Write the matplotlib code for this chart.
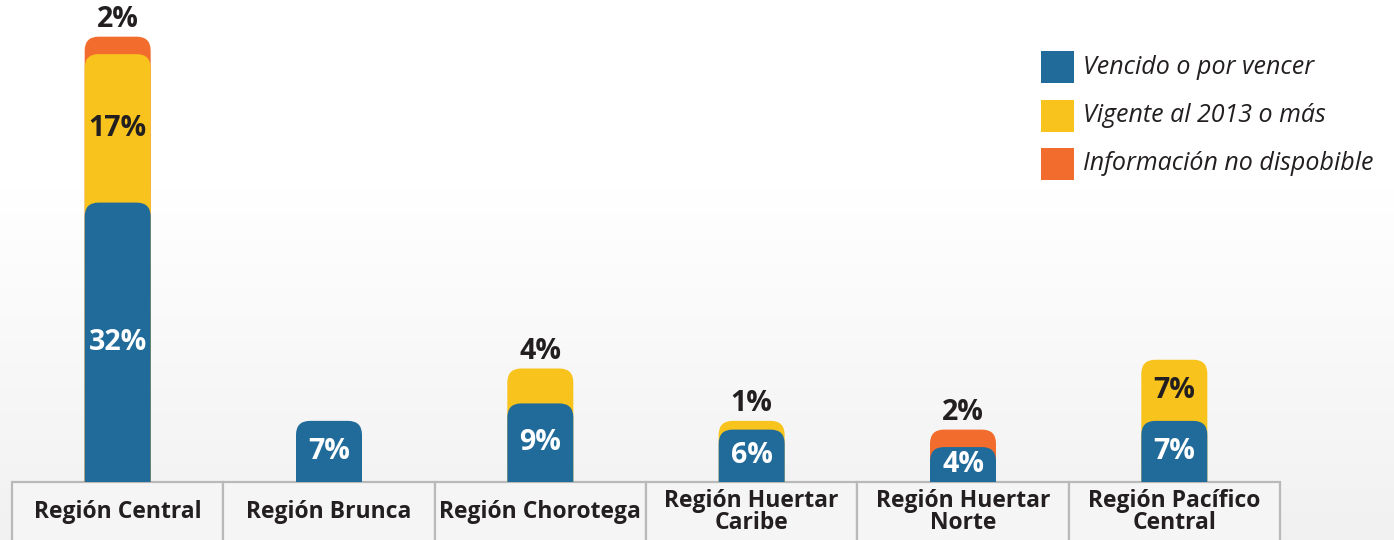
import numpy as np
import matplotlib.pyplot as plt
from matplotlib.patches import FancyBboxPatch, Rectangle

# data
regions = ['Región Central', 'Región Brunca', 'Región Chorotega',
           'Región Huertar\nCaribe', 'Región Huertar\nNorte', 'Región Pacífico\nCentral']
vencido = [32, 7, 9, 6, 4, 7]
vigente = [17, 0, 4, 1, 0, 7]
no_info = [2, 0, 0, 0, 2, 0]
series_names = ['Vencido o por vencer', 'Vigente al 2013 o más', 'Información no dispobible']
colors = ['#216b9b', '#f7c31c', '#f26c2d']
dark = '#231f20'

plt.rcParams['font.family'] = ['Open Sans', 'DejaVu Sans']

W, H = 1394, 540
fig = plt.figure(figsize=(W / 100, H / 100), dpi=100)

# soft background gradient
bg = fig.add_axes([0, 0, 1, 1], zorder=-10)
t = np.clip((np.linspace(0, 1, 300) - 0.35) / 0.65, 0, 1)
shade = 1 - 0.055 * t
bg.imshow(np.dstack([shade, shade, shade]).reshape(300, 1, 3), aspect='auto',
          extent=[0, 1, 0, 1], origin='upper')
bg.axis('off')

# plot area: from table top (y=482) to top of figure
ax_left, ax_right, ax_bot = 12, 1280, 482
ax = fig.add_axes([ax_left / W, (H - ax_bot) / H, (ax_right - ax_left) / W, ax_bot / H])
ax.set_facecolor('none')
n = len(regions)
x = np.arange(n)
ax.set_xlim(-0.5, n - 0.5)
ymax = 55.2
ax.set_ylim(0, ymax)
ax.axis('off')

px_x = (ax_right - ax_left) / n        # pixels per x unit
px_y = ax_bot / ymax                   # pixels per y unit
bar_w = 66 / px_x
r_px = 14
rx, ry = r_px / px_x, r_px / px_y


def rounded_bar(xc, top, color, z):
    p = FancyBboxPatch((xc - bar_w / 2, -2 * ry), bar_w, top + 2 * ry,
                       boxstyle=f'round,pad=0,rounding_size={rx}',
                       mutation_aspect=ry / rx, fc=color, ec='none',
                       zorder=z, clip_on=True)
    ax.add_patch(p)


fs_val = 20.5
for i in range(n):
    b, v, o = vencido[i], vigente[i], no_info[i]
    if o:
        rounded_bar(x[i], b + v + o, colors[2], 1)
        ax.text(x[i], b + v + o + 0.3, f'{o}%', color=dark, va='bottom', ha='center',
                fontsize=fs_val, fontweight='bold')
    if v:
        rounded_bar(x[i], b + v, colors[1], 2)
        if v >= 5:
            ax.text(x[i], b + v / 2, f'{v}%', color=dark, va='center', ha='center',
                    fontsize=fs_val, fontweight='bold')
        else:
            ax.text(x[i], b + v + 0.3, f'{v}%', color=dark, va='bottom', ha='center',
                    fontsize=fs_val, fontweight='bold')
    rounded_bar(x[i], b, colors[0], 3)
    ax.text(x[i], b / 2, f'{b}%', color='white', zorder=5, va='center', ha='center',
            fontsize=fs_val, fontweight='bold')

# category table under the bars
cell_h = 70 / ax_bot
for i, name in enumerate(regions):
    ax.add_patch(Rectangle((i / n, -cell_h), 1 / n, cell_h, transform=ax.transAxes,
                           fc='#f5f5f5', ec='#b9b9b9', lw=1.6, clip_on=False, zorder=0))
    ax.text((i + 0.5) / n, -30 / ax_bot, name,
            transform=ax.transAxes, ha='center', va='center', fontsize=16.5,
            fontweight='bold', color=dark, linespacing=0.9)

# legend
for k, name in enumerate(series_names):
    yc = 67 + 48.5 * k
    fig.patches.append(Rectangle((1041 / W, 1 - (yc + 16) / H), 33 / W, 32 / H,
                                 transform=fig.transFigure, fc=colors[k], ec='none'))
    fig.text(1083 / W, 1 - yc / H, name, ha='left', va='center', fontsize=18,
             style='italic', color=dark)

fig.savefig('out.png', dpi=100)
